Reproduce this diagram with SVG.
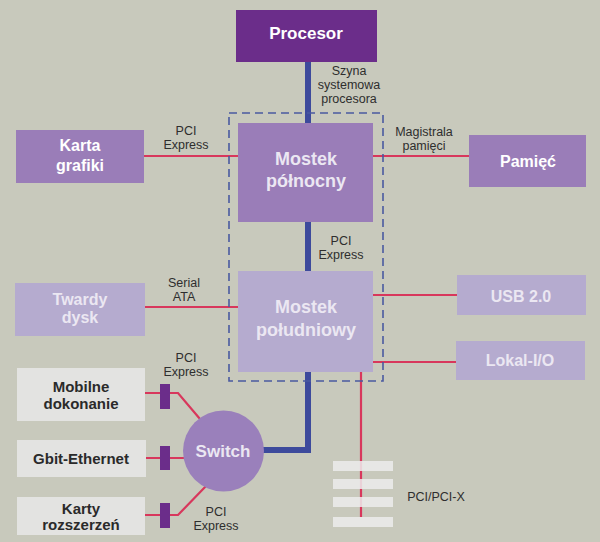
<svg xmlns="http://www.w3.org/2000/svg" width="600" height="542" viewBox="0 0 600 542">
<style>
.bg{fill:#c8c9bc}
.dark{fill:#6b2d8a}
.mid{fill:#9a7db8}
.light{fill:#b5abcf}
.pale{fill:#e3e3e1}
.conn{fill:#6b2d8a}
.t{font-family:"Liberation Sans",Arial,sans-serif;font-weight:bold;text-anchor:middle}
.tw{fill:#ffffff}
.tl{fill:#ebe7f2}
.td{fill:#2a2a2a}
.lab{font-family:"Liberation Sans",Arial,sans-serif;font-size:12.5px;fill:#2e2e2e;text-anchor:middle}
.red{stroke:#d8375c;stroke-width:2.2;fill:none}
.blue{stroke:#3d4a9c;stroke-width:6;fill:none}
.slot{fill:#ececec;opacity:0.85}
</style>
<rect class="bg" x="0" y="0" width="600" height="542"/>

<g id="connectors">
  <path class="blue" d="M308,62 V123"/>
  <path class="blue" d="M308,222 V271"/>
  <path class="blue" d="M308,372 V450 H262"/>
  <path class="red" d="M143,156 H238"/>
  <path class="red" d="M373,156 H470"/>
  <path class="red" d="M145,307 H238"/>
  <path class="red" d="M373,295 H457"/>
  <path class="red" d="M373,362 H456"/>
  <path class="red" d="M361,372 V517"/>
  <path class="red" d="M145,393 H178 L200,419"/>
  <path class="red" d="M146,458 H184"/>
  <path class="red" d="M145,515 H178 L207,485"/>
  <rect x="229" y="113" width="154" height="268" fill="none" stroke="#4a5aa0" stroke-width="1.6" stroke-dasharray="8 5"/>
  <g id="slots">
    <rect class="slot" x="333" y="461" width="60" height="10"/>
    <rect class="slot" x="333" y="479" width="60" height="10"/>
    <rect class="slot" x="333" y="497" width="60" height="10"/>
    <rect class="slot" x="333" y="517" width="60" height="10"/>
  </g>
  <rect class="conn" x="160" y="384" width="10" height="25"/>
  <rect class="conn" x="160" y="446" width="10" height="24"/>
  <rect class="conn" x="160" y="503" width="10" height="25"/>
  <text class="lab" x="349" y="75">Szyna</text>
  <text class="lab" x="349" y="89">systemowa</text>
  <text class="lab" x="349" y="103">procesora</text>
  <text class="lab" x="186" y="135">PCI</text>
  <text class="lab" x="186" y="149">Express</text>
  <text class="lab" x="424" y="136">Magistrala</text>
  <text class="lab" x="424" y="150">pamięci</text>
  <text class="lab" x="341" y="245">PCI</text>
  <text class="lab" x="341" y="259">Express</text>
  <text class="lab" x="184" y="287">Serial</text>
  <text class="lab" x="184" y="301">ATA</text>
  <text class="lab" x="186" y="362">PCI</text>
  <text class="lab" x="186" y="376">Express</text>
  <text class="lab" x="216" y="516">PCI</text>
  <text class="lab" x="216" y="530">Express</text>
  <text class="lab" x="436" y="501">PCI/PCI-X</text>
</g>

<g id="procesor">
  <rect class="dark" x="236" y="10" width="141" height="52"/>
  <text class="t tw" x="306" y="39" font-size="17">Procesor</text>
</g>
<g id="mostek-polnocny">
  <rect class="mid" x="238" y="123" width="135" height="99"/>
  <text class="t tl" x="306" y="165" font-size="18">Mostek</text>
  <text class="t tl" x="306" y="187" font-size="18">północny</text>
</g>
<g id="karta-grafiki">
  <rect class="mid" x="16" y="130" width="128" height="53"/>
  <text class="t tw" x="80" y="151" font-size="16">Karta</text>
  <text class="t tw" x="80" y="171" font-size="16">grafiki</text>
</g>
<g id="pamiec">
  <rect class="mid" x="469" y="135" width="117" height="52"/>
  <text class="t tw" x="528" y="167" font-size="16">Pamięć</text>
</g>
<g id="mostek-poludniowy">
  <rect class="light" x="238" y="271" width="135" height="101"/>
  <text class="t tl" x="306" y="313" font-size="18">Mostek</text>
  <text class="t tl" x="306" y="336" font-size="18">południowy</text>
</g>
<g id="twardy-dysk">
  <rect class="light" x="15" y="283" width="130" height="53"/>
  <text class="t tl" x="80" y="305" font-size="16">Twardy</text>
  <text class="t tl" x="80" y="323" font-size="16">dysk</text>
</g>
<g id="usb">
  <rect class="light" x="457" y="275" width="129" height="40"/>
  <text class="t tl" x="521" y="302" font-size="16">USB 2.0</text>
</g>
<g id="lokal-io">
  <rect class="light" x="456" y="341" width="129" height="39"/>
  <text class="t tl" x="520" y="366" font-size="16">Lokal-I/O</text>
</g>
<g id="mobilne">
  <rect class="pale" x="17" y="368" width="128" height="53"/>
  <text class="t td" x="81" y="392" font-size="15">Mobilne</text>
  <text class="t td" x="81" y="409" font-size="15">dokonanie</text>
</g>
<g id="gbit-ethernet">
  <rect class="pale" x="17" y="440" width="129" height="37"/>
  <text class="t td" x="81" y="464" font-size="15">Gbit-Ethernet</text>
</g>
<g id="karty-rozszerzen">
  <rect class="pale" x="17" y="497" width="128" height="38"/>
  <text class="t td" x="81" y="514" font-size="15">Karty</text>
  <text class="t td" x="81" y="530" font-size="15">rozszerzeń</text>
</g>
<g id="switch">
  <circle cx="223.5" cy="451" r="40.5" fill="#9a80bb"/>
  <text class="t tl" x="223" y="457" font-size="17">Switch</text>
</g>
</svg>
